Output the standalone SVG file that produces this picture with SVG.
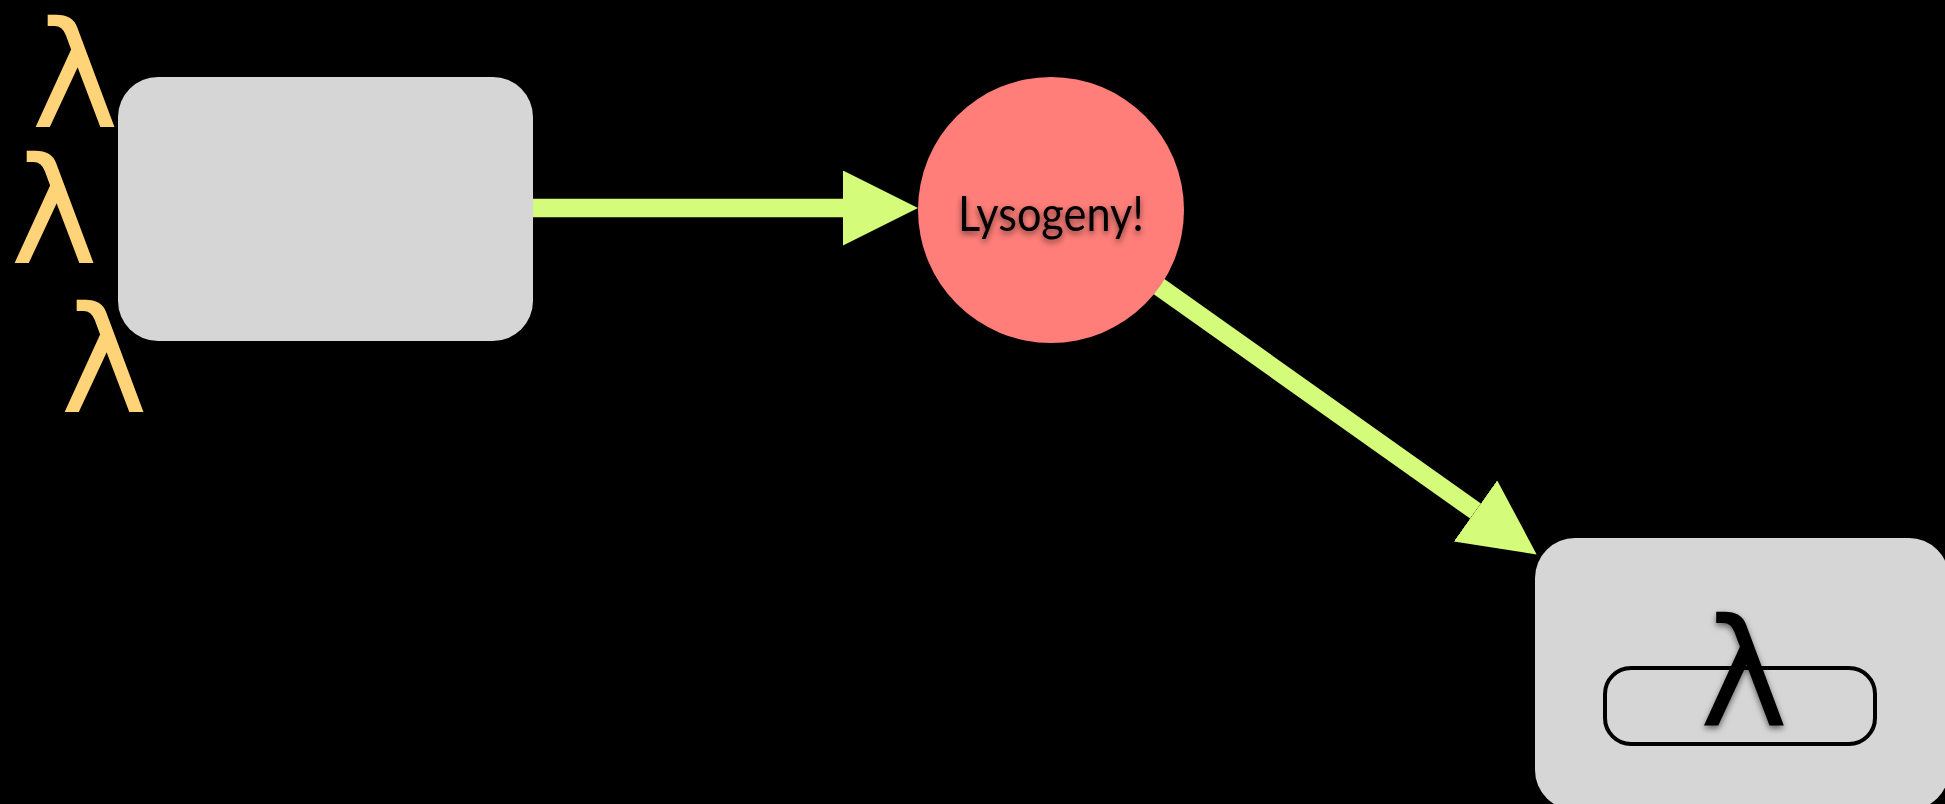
<svg xmlns="http://www.w3.org/2000/svg" width="1945" height="804" viewBox="0 0 1945 804">
  <defs>
    <style>
      .box { fill: #D6D6D6; }
      .phage { font-family: "DejaVu Sans", "Liberation Sans", sans-serif; font-size: 148px; fill: #FFD479; text-anchor: middle; }
      .label { font-family: Lato, "Liberation Sans", Arial, sans-serif; font-size: 48px; fill: #000000; text-anchor: middle; }
      .conn { stroke: #D4FB79; stroke-width: 18.6; fill: none; }
    </style>
    <marker id="arrow" markerUnits="userSpaceOnUse" markerWidth="76" markerHeight="76" refX="0" refY="37.5" orient="auto" viewBox="0 0 76 76">
      <path d="M0,0 L75,37.5 L0,75 z" fill="#D4FB79"/>
    </marker>
    <filter id="shadow" x="-20%" y="-20%" width="140%" height="150%">
      <feDropShadow dx="0" dy="3" stdDeviation="3" flood-color="#000" flood-opacity="0.55"/>
    </filter>
  </defs>
  <rect width="1945" height="804" fill="#000000"/>

  <g id="connectors">
    <line class="conn" x1="533" y1="208" x2="843" y2="208" marker-end="url(#arrow)"/>
    <line class="conn" x1="1051" y1="210" x2="1475.5" y2="511" marker-end="url(#arrow)"/>
  </g>

  <g id="cell">
    <rect class="box" x="118" y="77" width="415" height="264" rx="40" ry="40"/>
  </g>

  <g id="phages">
    <text class="phage" x="75" y="127">λ</text>
    <text class="phage" x="54" y="263">λ</text>
    <text class="phage" x="104" y="412">λ</text>
  </g>

  <g id="lysogeny">
    <circle cx="1051" cy="210" r="133" fill="#FF7E79"/>
    <text class="label" x="1051" y="231" textLength="186" lengthAdjust="spacingAndGlyphs" filter="url(#shadow)">Lysogeny!</text>
  </g>

  <g id="lysogen">
    <rect class="box" x="1535" y="538" width="414" height="272" rx="40" ry="40"/>
    <rect x="1605" y="668" width="270" height="76" rx="26" ry="26" fill="none" stroke="#000000" stroke-width="4"/>
    <text x="1744" y="725" font-family="DejaVu Sans, Liberation Sans, sans-serif" font-size="150" fill="#000000" text-anchor="middle" filter="url(#shadow)">λ</text>
  </g>
</svg>
